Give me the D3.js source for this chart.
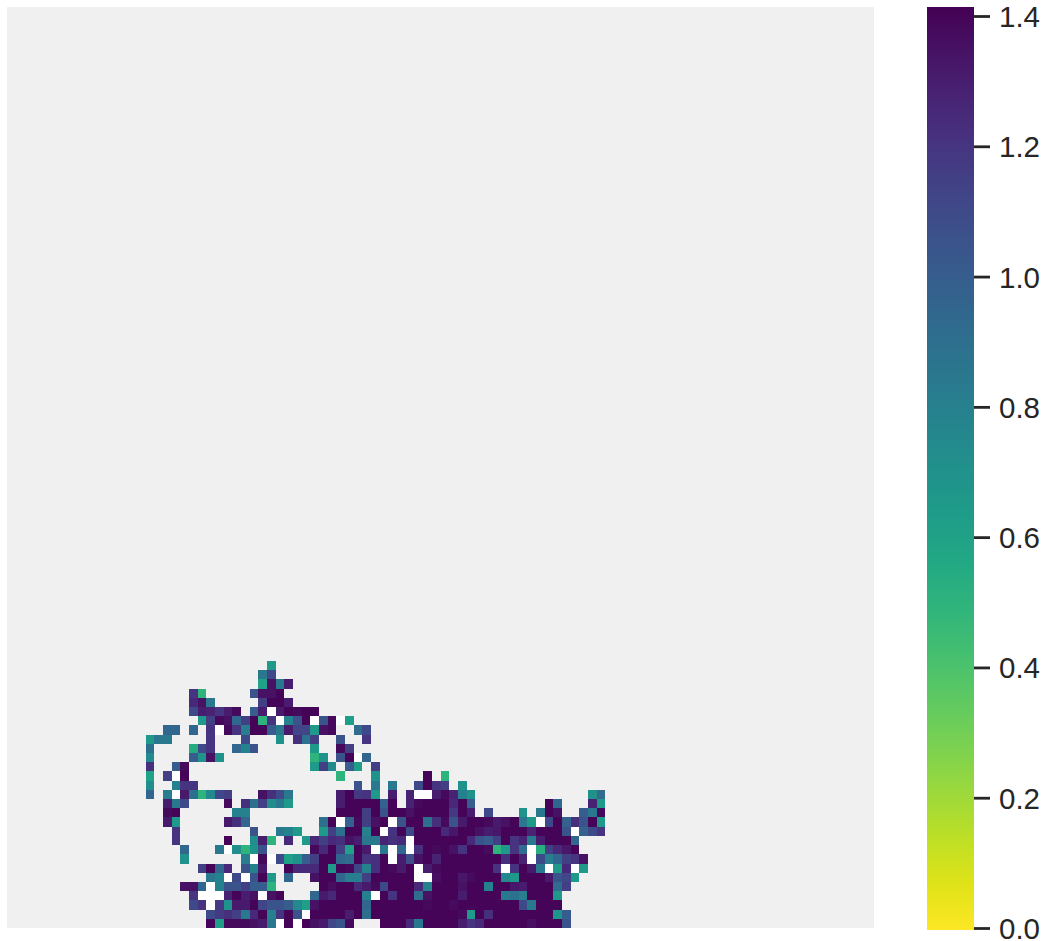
<!DOCTYPE html>
<html>
<head>
    <meta charset="utf-8">
    <style>
        body { margin: 0; background: #fff; }
        svg { display: block; }
        .cbar text { font-family: "Liberation Sans", Arial, sans-serif; font-size: 29.5px; fill: #262626; }
        .cbar line { stroke: #262626; stroke-width: 2.8px; }
        .cbar .domain { display: none; }
    </style>
</head>
<body>
    <svg class="chart" width="1043" height="941"></svg>

<script src="https://d3js.org/d3.v7.min.js"></script>
<script>
    // _ = masked (axes background shows), W = drawn as a white cell
    const _ = null
    const W = "w"

    const gridSize = 100
    const vmax = 1.414
    const colorTicks = [0, 0.2, 0.4, 0.6, 0.8, 1.0, 1.2, 1.4]

    // grid rows that hold data and the column each one starts at
    const rowIds = [71,72,73,74,75,76,77,78,79,80,81,82,83,84,85,86,87,88,89,90,91,92,93,94,95,96,97,98,99]
    const rowStart = [30,29,29,21,21,21,22,18,16,16,16,16,16,16,16,18,18,18,19,19,20,20,22,23,20,21,21,23,23]
    const rowValues = [
        [.65],
        [.85,1.1],
        [.6,1.35,.85,1.3],
        [1.2,.5,_,_,_,_,_,1.05,1.35,1.35,1.4],
        [1.25,1.35,.85,_,_,_,_,_,1.15,1.4,1.4,1.3],
        [1.1,1.3,1.28,1.2,1.3,1.38,_,1.0,1.3,W,1.32,1.4,1.38,1.4,1.4],
        [.65,1.15,1.38,1.35,.95,1.15,1.4,.5,1.2,W,.8,1.05,1.4,W,1.05,1.38,W,.62],
        [.95,.95,_,.95,_,1.2,W,1.38,1.2,.82,1.4,1.4,1.0,.85,1.32,1.12,1.12,.65,1.35,1.38,_,_,.92,1.1],
        [.65,.85,.85,_,_,_,_,1.2,_,_,_,1.1,_,_,_,.7,_,1.22,.88,1.15,_,_,1.05,_,_,1.2],
        [.9,_,_,_,_,.55,1.1,1.2,_,_,.95,.8,1.05,_,_,_,_,_,_,.65,_,_,1.38,1.15],
        [.75,_,_,_,_,1.0,.68,1.35,.7,_,_,_,_,_,_,_,_,_,_,.5,.7,_,1.05,1.4,W,.95],
        [1.22,_,_,1.0,1.38,_,_,_,_,_,_,_,_,_,_,_,_,_,_,.65,1.15,.75,_,1.0,.62,_,1.15],
        [.6,_,1.15,W,1.4,_,_,_,_,_,_,_,_,_,_,_,_,_,_,_,_,_,.5,_,_,_,.7,_,_,_,_,_,1.4,_,.5],
        [.72,_,_,.8,1.2,1.2,_,_,_,_,_,_,_,_,_,_,_,_,_,_,_,_,_,_,1.05,_,.85,_,.85,_,_,1.1,1.4,1.2,1.15,_,.7],
        [.95,_,.82,W,1.32,.9,.5,.75,1.1,1.15,_,_,_,1.35,1.22,1.1,.85,_,_,_,_,_,1.3,1.4,1.18,1.2,.65,_,1.3,_,1.28,W,W,1.3,1.38,1.28,.8,.7,_,_,_,_,_,_,_,_,_,_,_,_,_,.7,.92],
        [1.3,.85,1.1,_,_,_,_,1.38,_,1.22,.9,1.15,.72,.85,.65,_,_,_,_,_,1.3,1.4,1.4,1.4,1.4,.98,1.4,_,1.28,1.38,1.4,1.4,1.4,1.25,1.4,1.0,_,_,_,_,_,_,_,_,1.4,.95,_,_,_,1.28,.65],
        [1.38,1.4,_,_,_,_,_,_,.8,.8,_,_,_,_,_,_,_,_,_,_,1.4,1.4,1.4,1.15,1.4,1.05,1.4,1.4,1.35,1.4,1.4,1.4,1.4,1.18,1.4,1.3,_,1.1,_,_,_,.68,_,.85,1.4,1.35,_,_,1.0,.85,1.38],
        [1.32,.65,_,_,_,_,_,1.32,1.22,.95,_,_,_,_,_,_,_,_,.9,1.4,W,.98,1.38,1.15,1.35,1.4,W,1.05,1.4,1.4,.9,1.22,1.38,1.05,1.32,1.4,1.4,1.38,1.32,1.35,1.4,.85,.65,W,1.1,1.4,.98,1.22,1.05,1.4,.65],
        [1.2,_,_,_,_,_,_,_,_,1.05,_,_,.85,.8,.65,_,_,.65,1.15,.9,1.4,1.4,.8,1.4,W,1.2,1.4,1.1,1.4,1.4,1.4,1.25,1.33,1.4,1.4,1.35,1.3,1.33,1.4,1.4,1.4,1.28,1.4,1.4,1.4,1.05,W,.98,1.1,1.2],
        [1.2,_,_,_,_,_,1.4,_,_,.72,1.3,.5,_,1.25,_,.65,1.25,1.15,1.25,1.22,1.35,1.3,.85,.85,1.28,1.22,1.25,W,1.4,1.4,1.4,1.4,1.4,1.4,1.25,1.05,1.0,1.15,1.4,1.2,1.28,.85,1.3,1.4,1.4,1.4,.95],
        [.95,_,_,_,.85,W,.72,.5,.7,1.05,_,_,_,_,_,1.38,1.25,1.4,1.15,.6,1.4,1.32,W,.85,W,.95,W,1.22,1.4,1.38,1.4,1.35,1.2,1.4,1.4,1.37,.5,.65,1.2,.92,W,.52,1.15,1.25,1.33,1.4],
        [.7,_,_,_,_,_,_,.82,W,1.38,W,1.1,.62,.7,1.0,1.15,1.4,1.4,.95,.92,1.4,1.2,1.22,1.4,W,1.3,1.08,1.35,1.4,1.28,1.4,1.4,1.4,1.4,1.4,1.4,1.4,1.22,1.4,1.28,W,1.1,.82,.95,1.15,1.2,1.35],
        [1.15,1.4,.95,1.25,_,1.05,.8,1.32,_,_,1.4,1.25,1.25,1.25,1.4,.65,1.4,1.38,1.12,.8,1.22,1.4,1.38,1.32,1.4,W,1.3,1.38,1.4,1.4,1.4,1.4,1.4,1.4,1.2,W,1.2,1.4,1.32,.85,W,.65,1.25,W,.65],
        [.85,.8,W,1.1,W,1.05,1.4,.65,_,.95,_,_,1.35,1.4,1.4,.95,.82,.82,1.15,1.4,1.4,1.4,1.4,1.4,W,W,1.36,1.4,1.4,1.33,1.37,1.4,1.4,1.4,.75,.65,1.4,1.4,1.4,1.32,1.05,1.12,.65],
        [1.35,1.35,.95,W,.8,1.05,1.05,1.15,1.0,1.0,.5,_,_,_,_,_,1.4,1.36,1.4,1.4,1.25,1.32,1.38,1.1,1.4,1.4,1.4,1.25,.8,1.4,1.4,1.4,1.35,1.4,1.4,.8,1.4,1.4,1.33,1.3,1.4,1.4,1.4,.92,1.15],
        [1.2,W,W,W,1.28,1.4,1.3,1.35,W,1.35,1.4,_,_,_,.95,1.32,1.25,1.4,1.4,1.4,.8,W,1.4,1.2,1.4,1.4,.92,1.35,1.4,1.4,1.4,1.3,1.4,1.4,1.4,1.4,.85,.88,.82,1.4,1.4,1.4,.65],
        [1.1,1.2,W,1.18,.7,1.32,1.32,1.4,1.12,1.05,1.05,1.0,.75,.62,1.35,1.4,1.4,1.4,1.4,1.4,.95,1.4,1.4,1.4,1.4,1.4,1.4,1.38,1.4,1.4,1.37,1.4,1.4,1.4,1.4,1.4,1.4,1.4,1.1,.85,1.4,1.4,1.4],
        [1.1,1.18,1.22,1.15,.85,1.25,1.4,.8,1.2,1.4,1.05,W,1.4,1.4,1.4,1.4,1.3,1.4,.9,1.4,1.4,1.4,1.4,1.4,1.4,1.4,1.4,1.4,1.4,1.38,.65,1.4,1.22,1.4,1.4,1.4,1.4,1.4,1.4,1.4,.68,1.0],
        [1.4,.62,1.38,1.38,1.38,1.35,1.32,.85,W,1.4,W,1.4,1.35,1.32,1.12,1.05,1.38,_,_,_,1.4,1.4,1.4,1.25,.85,1.4,1.4,1.4,1.4,1.3,1.2,1.25,1.4,1.4,1.4,1.4,1.4,1.36,1.4,1.4,1.4,1.05]
    ]

    let cells = []
    rowValues.forEach(function(vals, i) {
        vals.forEach(function(v, j) {
            if (v !== null) {
                cells.push({row: rowIds[i], col: rowStart[i] + j, value: v})
            }
        })
    })

    let svg = d3.select(".chart")

    let x = d3.scaleBand().domain(d3.range(gridSize)).range([7, 874])
    let y = d3.scaleBand().domain(d3.range(gridSize)).range([7, 928])

    let color = d3.scaleSequential(t => d3.interpolateViridis(1 - t)).domain([0, vmax])

    svg.append("rect")
        .attr("x", x.range()[0])
        .attr("y", y.range()[0])
        .attr("width", x.range()[1] - x.range()[0])
        .attr("height", y.range()[1] - y.range()[0])
        .attr("fill", "#f0f0f0")

    svg.append("g")
        .selectAll("rect")
        .data(cells)
        .join("rect")
        .attr("x", d => x(d.col))
        .attr("y", d => y(d.row))
        .attr("width", x.bandwidth())
        .attr("height", y.bandwidth())
        .attr("shape-rendering", "crispEdges")
        .attr("fill", d => d.value === W ? "#fff" : color(d.value))

    // colorbar
    let barY = d3.scaleLinear().domain([0, 1.4]).range([928, 16])

    let grad = svg.append("defs").append("linearGradient")
        .attr("id", "cbar-grad")
        .attr("x1", 0).attr("x2", 0).attr("y1", 1).attr("y2", 0)

    grad.selectAll("stop")
        .data(d3.range(0, 1.0001, 0.05))
        .join("stop")
        .attr("offset", d => d)
        .attr("stop-color", d => d3.interpolateViridis(1 - d))

    svg.append("rect")
        .attr("x", 927)
        .attr("y", 7)
        .attr("width", 47)
        .attr("height", 923)
        .attr("fill", "url(#cbar-grad)")

    let barAxis = d3.axisRight(barY)
        .tickValues(colorTicks)
        .tickFormat(d3.format(".1f"))
        .tickSize(16)
        .tickPadding(9)

    svg.append("g")
        .attr("class", "cbar")
        .attr("transform", "translate(974,0)")
        .call(barAxis)
        .selectAll("text")
        .attr("dy", "0.355em")
</script>
</body>
</html>
